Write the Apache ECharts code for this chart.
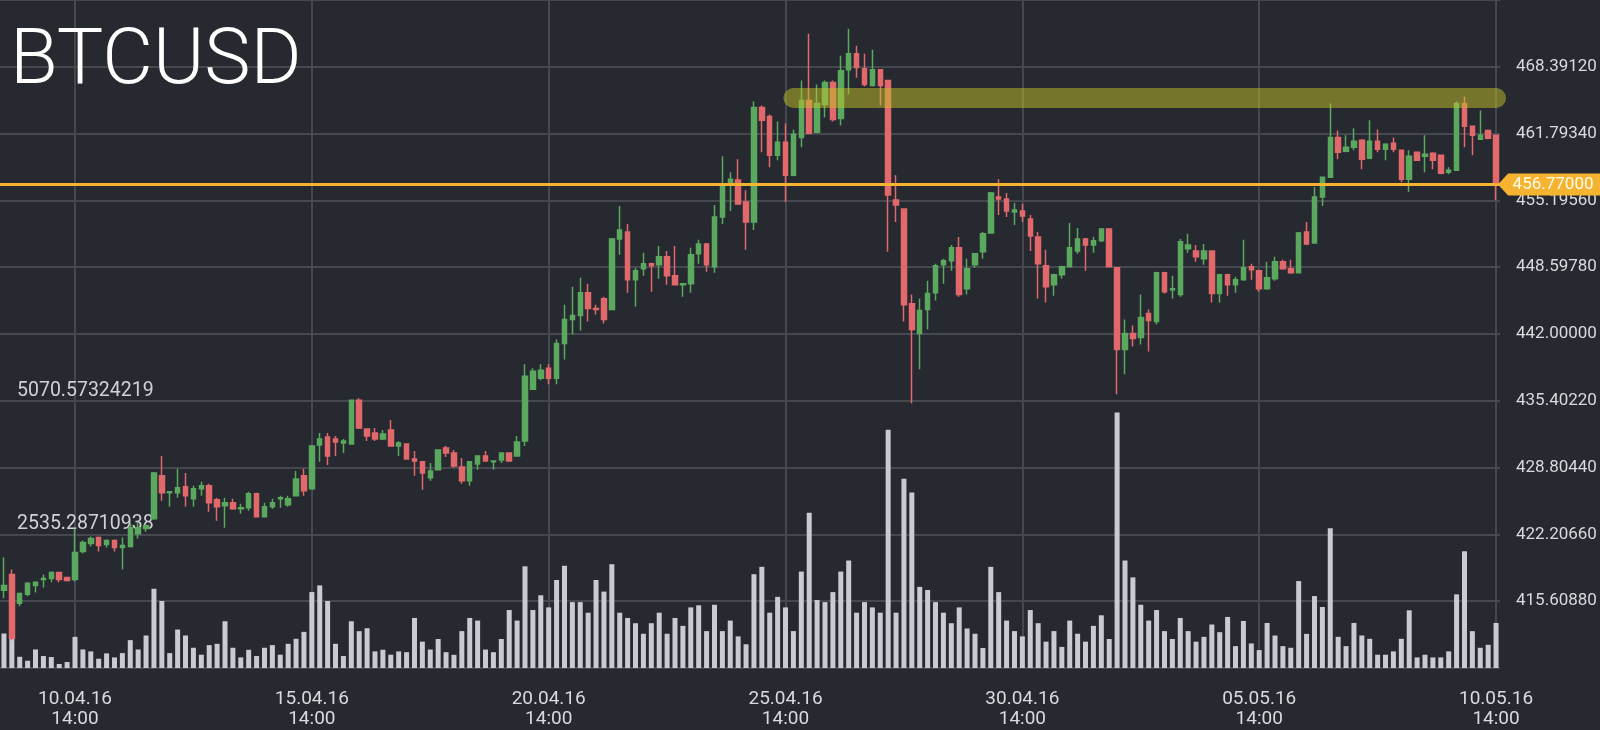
<!DOCTYPE html>
<html>
<head>
<meta charset="utf-8">
<script src="https://cdn.jsdelivr.net/npm/echarts@6/dist/echarts.min.js"></script>
<style>
html,body{margin:0;padding:0;background:#262930;}
#chart{width:1600px;height:730px;}
</style>
</head>
<body>
<div id="chart"></div>
<script>
// ---- data (4h candles, first candle 09.04.16 02:00) ----
const startTime = Date.UTC(2016, 3, 9, 2, 0);
const stepHours = 4;

const openP = [
416.68,418.25,415.40,416.29,417.17,417.76,417.86,418.45,417.96,417.76,
420.51,421.30,421.89,421.20,421.60,420.91,421.01,422.28,422.78,423.76,
427.99,426.32,426.32,426.91,425.73,426.71,427.00,425.63,425.04,425.33,
424.74,424.84,426.22,423.96,424.94,425.73,425.14,426.02,427.99,426.71,
431.04,431.82,431.63,431.23,431.14,435.46,432.61,432.22,431.63,432.51,
430.94,431.14,429.66,429.37,427.79,428.58,430.74,430.25,428.87,427.50,
429.17,429.96,429.37,429.56,430.25,429.96,431.43,436.54,437.63,438.61,
437.63,441.07,443.43,443.82,446.08,444.51,445.49,444.41,451.39,452.08,
447.36,448.44,448.94,448.84,449.62,447.76,446.87,446.97,449.92,450.90,
448.64,453.56,456.80,457.20,455.03,453.07,464.37,463.49,459.65,460.93,
457.69,461.42,465.06,461.92,464.67,466.83,463.29,468.11,469.68,468.21,
466.54,468.11,467.03,455.23,454.34,445.00,442.05,444.41,446.08,448.84,
449.23,450.51,446.48,448.84,450.12,451.98,455.52,455.33,454.05,454.15,
453.36,451.59,448.74,446.87,447.85,448.64,450.21,451.39,450.80,451.20,
452.38,448.54,440.48,442.05,441.66,444.02,443.23,448.05,446.38,445.89,
450.41,450.21,449.43,450.21,445.99,447.85,446.87,447.36,448.64,448.25,
446.48,447.46,449.13,448.44,448.05,452.08,451.00,455.52,457.49,461.42,
460.05,460.44,461.13,459.36,461.03,460.24,460.83,460.15,457.29,459.95,
459.56,459.85,459.65,457.98,458.18,464.77,462.51,461.23,462.11,461.62
];
const closeP = [
417.17,411.96,416.38,417.37,417.47,417.86,418.45,417.76,417.66,420.42,
421.40,421.79,421.11,421.60,420.91,421.11,422.87,422.87,423.07,428.28,
426.32,426.42,426.81,426.02,426.71,427.00,425.33,424.94,425.33,424.74,
424.84,426.22,423.96,424.94,425.33,425.82,425.73,427.69,426.51,430.94,
431.63,429.96,431.33,431.43,435.46,432.71,431.92,431.63,432.12,430.94,
431.23,429.66,429.46,428.28,428.48,430.55,430.25,428.97,427.50,429.37,
429.96,429.46,429.46,430.25,429.46,431.33,437.82,438.31,438.41,437.63,
441.07,443.43,443.82,446.08,444.51,444.41,443.43,451.39,452.28,447.36,
448.25,448.94,448.74,449.62,447.76,446.87,446.97,449.82,450.90,448.84,
453.56,456.70,457.29,454.84,453.07,464.37,463.10,459.65,460.93,457.69,
461.72,465.06,461.82,464.77,466.83,463.19,468.01,469.68,468.31,466.64,
468.11,466.54,455.72,454.74,444.90,442.44,444.31,445.99,448.74,449.23,
450.51,445.89,448.44,449.92,451.89,455.92,455.33,454.15,454.25,453.66,
451.69,448.94,446.67,447.85,448.64,450.51,451.39,450.80,451.20,452.38,
448.64,440.48,442.05,441.56,443.62,443.33,448.05,446.18,446.48,451.10,
450.80,449.62,450.21,445.99,447.85,446.87,447.36,448.54,448.35,446.48,
447.56,449.13,448.44,448.05,451.98,450.90,455.52,457.49,461.42,459.95,
460.44,461.03,459.26,461.03,460.24,460.74,460.24,457.29,459.56,459.16,
459.75,459.16,457.88,458.18,464.77,462.51,461.62,461.62,461.33,456.77
];
const lowP = [
415.89,411.76,415.11,416.09,416.48,416.97,417.47,417.47,417.56,417.56,
420.32,421.01,420.51,420.91,420.51,418.74,420.91,421.79,422.48,423.66,
425.53,424.94,425.82,424.94,424.94,426.02,424.45,423.56,422.87,424.65,
424.25,424.55,423.96,423.96,424.74,424.84,424.94,426.02,426.02,426.61,
429.37,429.07,429.96,430.25,431.14,432.61,431.43,431.43,431.53,430.94,
429.96,429.66,427.99,426.61,427.50,428.58,429.86,428.78,427.20,427.00,
428.58,429.46,428.58,429.27,429.46,429.96,430.94,436.54,437.43,437.04,
437.04,439.49,441.95,442.35,443.23,443.92,443.03,444.41,449.82,446.08,
444.71,447.76,446.18,447.46,446.87,446.87,445.69,446.08,448.94,448.15,
448.05,452.87,454.15,454.84,450.31,452.28,459.95,458.47,459.16,455.03,
457.59,460.44,461.72,461.82,463.39,463.00,462.60,465.65,467.32,466.44,
466.44,464.57,450.12,453.07,443.23,435.17,438.51,442.44,445.30,446.97,
448.25,445.69,445.89,448.54,449.43,451.98,453.75,453.56,452.77,453.07,
450.21,445.50,445.10,445.79,447.46,448.64,449.92,448.25,450.02,451.10,
448.64,436.05,438.02,440.77,440.97,440.28,442.94,445.99,445.50,445.69,
450.02,449.13,448.84,445.10,445.10,445.79,446.08,447.26,447.36,446.18,
446.38,447.26,448.35,447.95,448.05,450.80,451.00,454.64,457.49,459.26,
459.95,460.15,458.28,459.26,459.95,459.16,459.95,457.00,456.02,459.16,
457.98,458.28,457.79,457.79,458.18,460.44,459.65,461.23,461.23,455.23
];
const highP = [
419.92,418.74,416.48,417.47,417.56,418.25,418.55,418.45,417.96,422.78,
421.60,421.99,421.99,421.70,421.70,421.89,423.27,423.37,423.27,428.38,
429.96,426.42,428.68,428.28,427.00,427.40,427.20,425.82,425.82,425.73,
425.24,426.42,426.32,425.33,425.73,426.02,426.02,428.48,428.68,431.04,
432.22,432.22,431.92,431.63,435.46,435.66,432.61,432.71,432.51,433.50,
431.43,431.14,430.45,429.46,429.27,430.55,430.94,430.55,429.76,429.37,
429.96,430.45,429.46,430.25,430.25,431.92,439.00,438.61,439.00,439.00,
441.46,444.90,446.67,447.56,446.97,444.90,445.69,451.49,454.64,452.87,
448.54,450.02,449.03,450.70,450.21,450.70,446.97,450.51,451.30,451.00,
454.74,459.56,457.98,459.26,456.21,464.96,464.57,463.69,463.00,462.80,
462.21,467.03,471.65,466.64,467.03,467.03,469.49,472.14,470.47,469.68,
470.08,468.11,467.03,457.69,454.34,445.89,445.50,447.26,448.94,449.43,
450.80,451.59,449.43,449.92,452.08,456.02,457.29,455.92,454.93,454.84,
453.75,452.08,450.31,447.95,448.74,452.97,452.48,451.49,451.59,452.48,
452.48,448.54,443.43,442.84,445.89,444.41,448.15,448.15,447.76,451.39,
451.89,450.80,450.90,450.21,447.95,447.95,447.66,451.30,448.94,448.35,
449.13,449.62,449.33,449.33,452.08,453.07,456.51,457.49,464.77,462.11,
461.62,462.31,461.23,463.10,462.21,460.83,461.42,460.15,460.15,459.95,
461.62,459.95,459.65,458.47,464.96,465.46,462.60,464.08,462.21,461.62
];
const volume = [
655,1252,213,138,352,227,208,76,113,591,
352,315,176,277,201,283,529,352,617,1504,
1271,283,730,617,384,252,434,459,887,384,
201,346,227,384,434,252,459,554,686,1441,
1567,1271,459,227,887,699,755,315,346,252,
315,300,950,500,350,550,300,250,700,950,
900,350,300,550,1100,900,1930,1100,1380,1150,
1670,1940,1250,1250,1050,1670,1450,1970,1050,950,
850,650,850,1050,650,950,800,1150,1190,700,
1200,700,900,600,450,1780,1920,1050,1350,1150,
700,1830,2945,1290,1250,1440,1830,2040,1050,1250,
1150,1050,4520,1050,3590,3330,1540,1480,1250,1050,
850,1150,750,650,380,1920,1440,900,700,600,
1100,850,500,700,400,900,650,500,800,1000,
550,4850,2040,1720,1200,900,1100,700,550,950,
700,500,591,825,680,969,415,893,466,340,
855,617,415,384,1649,648,1365,1158,2650,591,
415,855,617,554,252,252,315,554,1095,201,
252,201,201,315,1397,2215,699,384,440,855
];
const volumeTickLabels = ['2535.28710938', '5070.57324219'];
const lastPrice = 456.77;
const lastPriceLabel = '456.77000';
const zoneLow = 464.38, zoneHigh = 466.35;
const labelEvery = 30, labelFirst = 9;

// ---- build ----
const pad = n => (n < 10 ? '0' : '') + n;
const categories = [];
for (let i = 0; i < openP.length; i++) {
  const d = new Date(startTime + i * stepHours * 3600000);
  categories.push(pad(d.getUTCDate()) + '.' + pad(d.getUTCMonth() + 1) + '.' + String(d.getUTCFullYear()).slice(2) + ' ' + pad(d.getUTCHours()) + ':' + pad(d.getUTCMinutes()));
}
const candles = openP.map((o, i) => [o, closeP[i], lowP[i], highP[i]]);
const gridCats = categories.filter((c, i) => (i - labelFirst) % labelEvery === 0 && i >= labelFirst);
const zoneMid = (zoneLow + zoneHigh) / 2;

const chart = echarts.init(document.getElementById('chart'), null, {renderer: 'canvas'});
chart.setOption({
  backgroundColor: '#262930',
  animation: false,
  title: {
    text: 'BTCUSD', left: 5, top: 19,
    textStyle: {color: '#ffffff', fontSize: 78, fontWeight: 300, fontFamily: 'Roboto'}
  },
  grid: {left: 0, right: 100, top: -3, bottom: 62, containLabel: false},
  xAxis: {
    type: 'category', data: categories, boundaryGap: true,
    axisLine: {show: false}, axisTick: {show: false}, splitLine: {show: false},
    axisLabel: {
      interval: (idx) => idx >= labelFirst && (idx - labelFirst) % labelEvery === 0,
      formatter: v => v.replace(' ', '\n'),
      color: '#d8dade', fontSize: 19, fontFamily: 'Roboto', lineHeight: 20, margin: 21
    }
  },
  yAxis: [{
    type: 'value', position: 'right', scale: true,
    min: 409.011, max: 474.989, interval: 6.5978,
    axisLine: {show: false}, axisTick: {show: false},
    splitLine: {show: true, lineStyle: {color: '#45484f', width: 2}},
    axisLabel: {
      formatter: v => v.toFixed(5), showMinLabel: false, showMaxLabel: false,
      color: '#d8dade', fontSize: 17, fontFamily: 'Roboto', margin: 16
    }
  }, {
    type: 'value', position: 'left',
    min: 0, max: 12676.4355469, interval: 2535.28710938,
    axisLine: {show: false}, axisTick: {show: false}, splitLine: {show: false},
    axisLabel: {
      inside: true, margin: 17, verticalAlign: 'bottom', padding: [0, 0, 0, 0],
      formatter: (v, idx) => (idx === 1 ? volumeTickLabels[0] : idx === 2 ? volumeTickLabels[1] : ''),
      color: '#d0d2d8', fontSize: 19.5, fontFamily: 'Roboto'
    }
  }],
  series: [{
    name: 'Volume', type: 'bar', xAxisIndex: 0, yAxisIndex: 1,
    data: volume, barWidth: 5, z: 1,
    itemStyle: {color: '#c9cbd4'},
    markLine: {
      silent: true, symbol: 'none', z: 0, animation: false,
      label: {show: false},
      lineStyle: {color: '#45484f', width: 2, type: 'solid'},
      data: gridCats.map(c => ({xAxis: c}))
    }
  }, {
    name: 'BTCUSD', type: 'candlestick', xAxisIndex: 0, yAxisIndex: 0,
    data: candles, barWidth: 5, z: 3,
    itemStyle: {
      color: '#5aa95e', color0: '#e2696b',
      borderColor: '#5aa95e', borderColor0: '#e2696b', borderWidth: 1.5
    },
    markLine: {
      silent: true, symbol: 'none', z: 10, animation: false,
      label: {show: false},
      data: [
        {yAxis: lastPrice, lineStyle: {color: '#f5b331', width: 3, type: 'solid'}},
        [
          {coord: [categories[100], zoneMid], lineStyle: {color: 'rgba(196,196,40,0.5)', width: 20, type: 'solid', cap: 'round'}},
          {coord: [categories[categories.length - 1], zoneMid]}
        ]
      ]
    },
    markPoint: {
      silent: true, z: 12, animation: false,
      data: [{
        coord: [categories[categories.length - 1], lastPrice],
        symbol: 'path://M0,11 L10,0 L110,0 L110,22 L10,22 Z',
        symbolSize: [110, 22], symbolKeepAspect: false, symbolOffset: [57, 0],
        itemStyle: {color: '#f5b331'},
        label: {show: true, formatter: lastPriceLabel, color: '#fffbea', fontSize: 17, fontFamily: 'Roboto', position: 'inside'}
      }]
    }
  }]
});
</script>
</body>
</html>
